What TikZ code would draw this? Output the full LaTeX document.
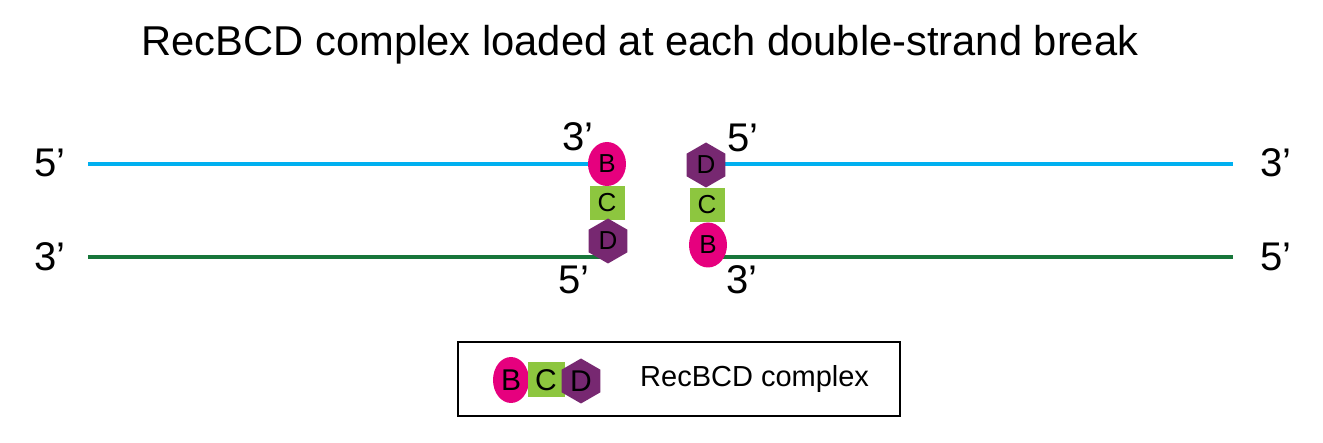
\documentclass[tikz,border=0pt]{standalone}
\usepackage{fontspec}
\setmainfont{Liberation Sans}
\usetikzlibrary{shapes.geometric,backgrounds}
\definecolor{strandblue}{HTML}{00B0F0}
\definecolor{strandgreen}{HTML}{17763A}
\definecolor{recB}{HTML}{E6007E}
\definecolor{recC}{HTML}{8DC63F}
\definecolor{recD}{HTML}{772871}

\begin{document}
\begin{tikzpicture}[x=1pt,y=-1pt,
  subB/.style={ellipse,fill=recB,inner sep=0pt,minimum width=38pt,minimum height=44pt,
    font=\fontsize{26}{26}\selectfont},
  subC/.style={rectangle,fill=recC,inner sep=0pt,minimum width=35pt,minimum height=34pt,
    font=\fontsize{26}{26}\selectfont},
  subD/.style={regular polygon,regular polygon sides=6,shape border rotate=30,fill=recD,
    inner sep=0pt,minimum size=45pt,font=\fontsize{26}{26}\selectfont},
  primelabel/.style={inner sep=0pt,font=\fontsize{40}{40}\selectfont},
  strand/.style={line width=4pt}]
  \useasboundingbox (0,0) rectangle (1323,443);

  % title
  \node[anchor=base,inner sep=0pt,font=\fontsize{41.7}{42}\selectfont] (title) at (640,56)
    {RecBCD complex loaded at each double-strand break};

  % left complex
  \node[subB] (lB) at (607,164) {B};
  \node[subC] (lC) at (607,203) {C};
  \node[subD] (lD) at (608,241) {D};

  % right complex
  \node[subD] (rD) at (706,165) {D};
  \node[subC] (rC) at (707,205) {C};
  \node[subB,minimum height=45pt] (rB) at (708,245) {B};

  % strand ends
  \coordinate (topL) at (88,164);
  \coordinate (botL) at (88,257);
  \coordinate (topR) at (1233,164);
  \coordinate (botR) at (1233,257);

  \begin{scope}[on background layer]
    \draw[strand,strandblue] (topL) -- (topL -| lB.center);
    \draw[strand,strandblue] (topR -| rD.center) -- (topR);
    \draw[strand,strandgreen] (botL) -- (botL -| lD.center);
    \draw[strand,strandgreen] (botR -| rB.center) -- (botR);
  \end{scope}

  % 5' and 3' labels
  \node[primelabel] (tl) at (50,163) {5’};
  \node[primelabel] (bl) at (50,257) {3’};
  \node[primelabel] (tr) at (1276,163) {3’};
  \node[primelabel] (br) at (1276,257) {5’};
  \node[primelabel] (lBlab) at (578,137) {3’};
  \node[primelabel] (lDlab) at (574,280) {5’};
  \node[primelabel] (rDlab) at (743,138) {5’};
  \node[primelabel] (rBlab) at (742,280) {3’};

  % legend
  \draw[line width=2pt] (458,342) rectangle (900,416);
  \node[subB,minimum width=36pt,minimum height=46pt,font=\fontsize{30}{30}\selectfont] (kB) at (511,380) {B};
  \node[subC,minimum width=37pt,minimum height=35pt,font=\fontsize{30}{30}\selectfont] (kC) at (546,380) {C};
  \node[subD,font=\fontsize{30}{30}\selectfont] (kD) at (581,381) {D};
  \node[anchor=base west,inner sep=0pt,font=\fontsize{29}{29}\selectfont] (ktext) at (640,387) {RecBCD complex};
\end{tikzpicture}
\end{document}
